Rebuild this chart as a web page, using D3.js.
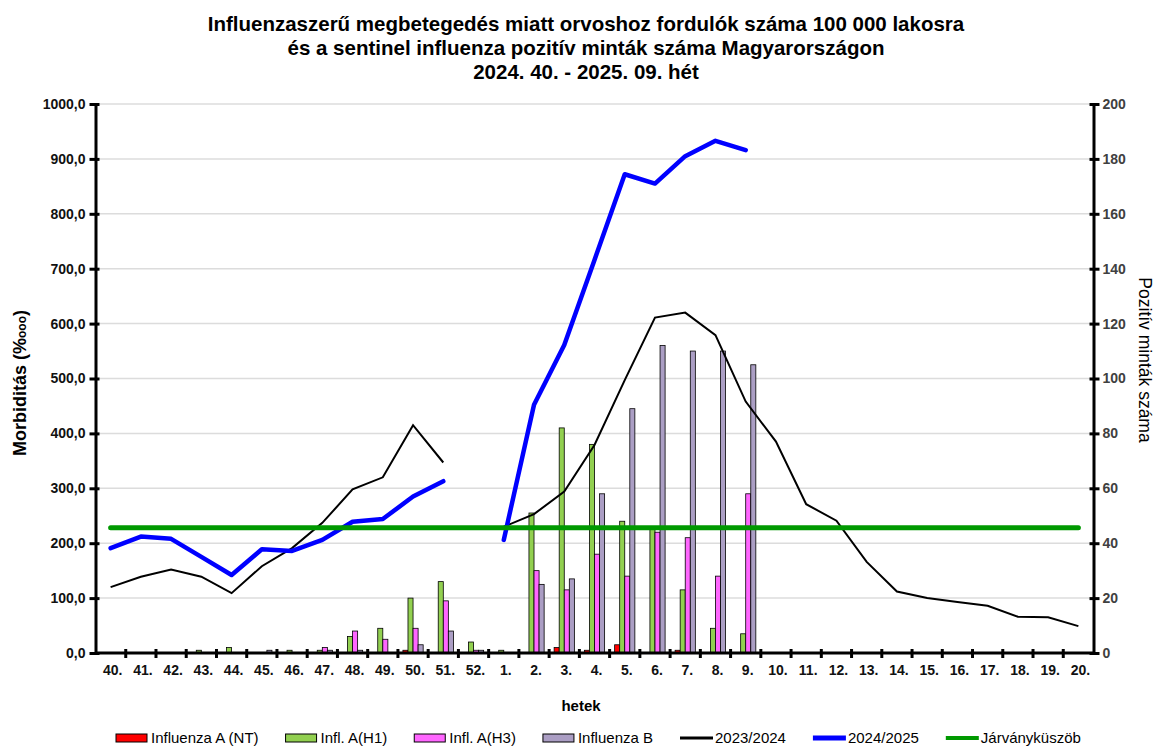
<!DOCTYPE html>
<html>
<head>
<meta charset="utf-8">
<title>Influenzaszerű megbetegedés</title>
<style>
body{margin:0;background:#fff;}
svg{display:block;font-family:"Liberation Sans",Arial,sans-serif;}
.title{font-size:20.5px;font-weight:bold;text-anchor:middle;}
.axis text{font-size:14px;font-weight:bold;fill:#111;}
.axisR text{fill:#404040;}
.grid line{stroke:#dcdcdc;stroke-width:1.5;}
.legend text{font-size:15px;}
</style>
<script src="https://cdnjs.cloudflare.com/ajax/libs/d3/7.8.5/d3.min.js"></script>
</head>
<body>
<svg id="chart" width="1158" height="747"></svg>
<script>
// hetek
var weeks = ["40.","41.","42.","43.","44.","45.","46.","47.","48.","49.","50.","51.","52.",
  "1.","2.","3.","4.","5.","6.","7.","8.","9.","10.","11.","12.","13.","14.","15.","16.","17.","18.","19.","20."];

// pozitív minták (jobb tengely)
var fluANT = [0,0,0,0,0,0,0,0,0,0,1,0,0, 0,0,2,1,3,0,1,0,0, 0,0,0,0,0,0,0,0,0,0,0];
var fluAH1 = [0,0,0,1,2,0,1,1,6,9,20,26,4, 1,51,82,76,48,45,23,9,7, 0,0,0,0,0,0,0,0,0,0,0];
var fluAH3 = [0,0,0,0,0,0,0,2,8,5,9,19,1, 0,30,23,36,28,44,42,28,58, 0,0,0,0,0,0,0,0,0,0,0];
var fluB   = [0,0,0,0,0,1,0,1,1,0,3,8,1, 0,25,27,58,89,112,110,110,105, 0,0,0,0,0,0,0,0,0,0,0];

// morbiditás (bal tengely)
var s2324 = [120,139,152,139,109,158,191,237,298,320,415,347,null,
  230,253,294,379,497,611,620,579,458,385,271,241,166,112,100,93,86,66,65,49];
var s2425 = [191,212,208,175,142,189,186,206,239,244,285,313,null,
  206,452,561,716,872,855,905,933,916,null,null,null,null,null,null,null,null,null,null,null];
var threshold = 228;

var leftTicks = [0,100,200,300,400,500,600,700,800,900,1000];
var rightTicks = [0,20,40,60,80,100,120,140,160,180,200];

var barSeries = [
  {name:"Influenza A (NT)", values:fluANT, color:"#ff0000"},
  {name:"Infl. A(H1)", values:fluAH1, color:"#92d050"},
  {name:"Infl. A(H3)", values:fluAH3, color:"#ff66ff"},
  {name:"Influenza B", values:fluB, color:"#ab9ec4"}
];

var pLeft = 95.5, pRight = 1093.5, pTop = 104, pBottom = 653;
var svg = d3.select("#chart");

var x = d3.scaleBand().domain(weeks).range([pLeft, pRight]).padding(0);
var x1 = d3.scaleBand().domain(d3.range(4)).range([5, x.bandwidth()-5]);
var yL = d3.scaleLinear().domain([0,1000]).range([pBottom, pTop]);
var yR = d3.scaleLinear().domain([0,200]).range([pBottom, pTop]);
var fmt = function(d){ return d3.format(".1f")(d).replace(".", ","); };

// rácsvonalak
svg.append("g").attr("class","grid")
  .selectAll("line").data(leftTicks.slice(1)).enter().append("line")
  .attr("x1", pLeft).attr("x2", pRight)
  .attr("y1", function(d){ return yL(d); })
  .attr("y2", function(d){ return yL(d); });

// oszlopok
barSeries.forEach(function(s, k){
  svg.append("g").selectAll("rect")
    .data(s.values.map(function(v,i){ return {w:weeks[i], v:v}; }).filter(function(d){ return d.v > 0; }))
    .enter().append("rect")
    .attr("x", function(d){ return x(d.w) + x1(k); })
    .attr("width", x1.bandwidth())
    .attr("y", function(d){ return yR(d.v); })
    .attr("height", function(d){ return pBottom - yR(d.v); })
    .attr("fill", s.color)
    .attr("stroke", "#000").attr("stroke-width", 0.8);
});

// vonalak
var lineL = d3.line()
  .defined(function(d){ return d != null; })
  .x(function(d,i){ return x(weeks[i]) + x.bandwidth()/2; })
  .y(function(d){ return yL(d); });

svg.append("path").datum(s2324).attr("d", lineL)
  .attr("fill","none").attr("stroke","#000").attr("stroke-width",2);
svg.append("path").datum(s2425).attr("d", lineL)
  .attr("fill","none").attr("stroke","#0000ff").attr("stroke-width",4.5)
  .attr("stroke-linejoin","round").attr("stroke-linecap","round");
svg.append("path").datum(weeks.map(function(){ return threshold; })).attr("d", lineL)
  .attr("fill","none").attr("stroke","#009900").attr("stroke-width",5)
  .attr("stroke-linecap","round");

// bal tengely
var gL = svg.append("g").attr("class","axis")
  .attr("transform","translate(" + pLeft + ",0)")
  .call(d3.axisLeft(yL).tickValues(leftTicks).tickFormat(fmt).tickSizeInner(6).tickSizeOuter(0).tickPadding(4));
gL.selectAll(".tick line").attr("x1",4).attr("stroke-width",3);
gL.select(".domain").attr("stroke-width",3);

// jobb tengely
var gR = svg.append("g").attr("class","axis axisR")
  .attr("transform","translate(" + pRight + ",0)")
  .call(d3.axisRight(yR).tickValues(rightTicks).tickSizeInner(6).tickSizeOuter(0).tickPadding(3));
gR.selectAll(".tick line").attr("x1",-4).attr("stroke-width",3);
gR.select(".domain").attr("stroke-width",3);

// x tengely
var gX = svg.append("g").attr("class","axis")
  .attr("transform","translate(0," + pBottom + ")")
  .call(d3.axisBottom(x).tickSize(0).tickPadding(12));
gX.select(".domain").attr("stroke-width",3).attr("d","M" + pLeft + ",0H" + pRight);
gX.selectAll(".tick text").attr("dx", 2);
gX.append("g").selectAll("line").data(weeks.slice(1)).enter().append("line")
  .attr("x1", function(d){ return x(d); }).attr("x2", function(d){ return x(d); })
  .attr("y1", -4).attr("y2", 5)
  .attr("stroke","#000").attr("stroke-width",3);

// cím
var title = ["Influenzaszerű megbetegedés miatt orvoshoz fordulók száma 100 000 lakosra",
  "és a sentinel influenza pozitív minták száma Magyarországon",
  "2024. 40. - 2025. 09. hét"];
svg.append("g").selectAll("text").data(title).enter().append("text")
  .attr("class","title")
  .attr("x", 586).attr("y", function(d,i){ return 31 + i*24; })
  .text(function(d){ return d; });

// tengelyfeliratok
var yLab = svg.append("text")
  .attr("transform","translate(26,383) rotate(-90)")
  .attr("text-anchor","middle").attr("font-size",18).attr("font-weight","bold");
yLab.append("tspan").text("Morbiditás (%");
yLab.append("tspan").attr("font-size",12).text("ooo");
yLab.append("tspan").text(")");

svg.append("text")
  .attr("transform","translate(1139,360) rotate(90)")
  .attr("text-anchor","middle").attr("font-size",17.5)
  .text("Pozitív minták száma");

svg.append("text").attr("x",581).attr("y",711)
  .attr("text-anchor","middle").attr("font-size",15).attr("font-weight","bold")
  .text("hetek");

// jelmagyarázat
var legItems = barSeries.map(function(s){ return {name:s.name, color:s.color, type:"rect"}; })
  .concat([
    {name:"2023/2024", color:"#000", type:"line", w:3},
    {name:"2024/2025", color:"#0000ff", type:"line", w:5},
    {name:"Járványküszöb", color:"#009900", type:"line", w:4}
  ]);
var leg = svg.append("g").attr("class","legend");
var lx = 116, ly = 738;
legItems.forEach(function(d){
  if (d.type == "rect") {
    leg.append("rect").attr("x", lx).attr("y", ly-4).attr("width", 31).attr("height", 8)
      .attr("fill", d.color).attr("stroke","#000").attr("stroke-width",1);
  } else {
    leg.append("line").attr("x1", lx).attr("x2", lx+33).attr("y1", ly).attr("y2", ly)
      .attr("stroke", d.color).attr("stroke-width", d.w);
  }
  var t = leg.append("text").attr("x", lx+35).attr("y", ly+5).text(d.name);
  lx += 35 + t.node().getComputedTextLength() + 27;
});
</script>
</body>
</html>
